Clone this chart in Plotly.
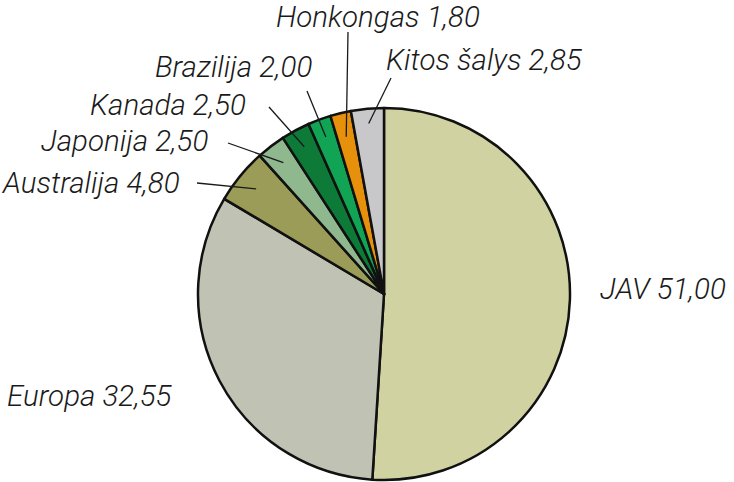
import math
import plotly.graph_objects as go

# ---- data ----
countries = ["JAV", "Europa", "Australija", "Japonija", "Kanada", "Brazilija", "Honkongas", "Kitos šalys"]
values = [51.00, 32.55, 4.80, 2.50, 2.50, 2.00, 1.80, 2.85]
value_labels = ["51,00", "32,55", "4,80", "2,50", "2,50", "2,00", "1,80", "2,85"]

# ---- styles / layout ----
W, H = 734, 482
colors = ["#d0d3a1", "#c0c2b4", "#9b9c58", "#8fb88f", "#0e7a37", "#10a454", "#e6900c", "#c8c8ca"]
CX, CY, R = 384, 294, 186

# label text left x, cap-centre y (px), leader outer end (px) or None
label_pos = {
    "JAV": (601, 287, None),
    "Europa": (8, 394, None),
    "Australija": (2, 181, (197, 183)),
    "Japonija": (42, 139, (228, 143)),
    "Kanada": (91, 103, (269, 107)),
    "Brazilija": (156, 65, (307, 91)),
    "Honkongas": (277, 15, (348, 32)),
    "Kitos šalys": (387, 58, (391, 78)),
}
leader_r = {"Australija": 0.89, "Japonija": 0.89, "Kanada": 0.9, "Brazilija": 0.9,
            "Honkongas": 0.87, "Kitos šalys": 0.92}

fig = go.Figure(go.Pie(
    labels=countries, values=values, sort=False, direction="clockwise", rotation=0,
    marker=dict(colors=colors, line=dict(color="#111111", width=2.5)),
    textinfo="none", hoverinfo="label+value", showlegend=False,
    domain=dict(x=[(CX - R) / W, (CX + R) / W], y=[(H - CY - R) / H, (H - CY + R) / H]),
))

def px(x, y):
    return x / W, 1 - y / H

total = sum(values)
cum = 0.0
annotations, shapes = [], []
for name, v, vl in zip(countries, values, value_labels):
    mid = (cum + v / 2) / total * 2 * math.pi
    cum += v
    tx, ty, outer = label_pos[name]
    ax, ay = px(tx, ty + 2)
    annotations.append(dict(
        x=ax, y=ay, xref="paper", yref="paper", xanchor="left", yanchor="middle",
        text=f"{name} {vl}", showarrow=False, xshift=-3,
        font=dict(family="Roboto, Liberation Sans, Arial, sans-serif", size=29.5, color="#1a1a1a",
                  style="italic", weight=300),
    ))
    if outer is not None:
        rr = R * leader_r[name]
        ix = CX + rr * math.sin(mid)
        iy = CY - rr * math.cos(mid)
        x0, y0 = px(*outer)
        x1, y1 = px(ix, iy)
        shapes.append(dict(type="line", xref="paper", yref="paper", x0=x0, y0=y0, x1=x1, y1=y1,
                           line=dict(color="#1a1a1a", width=1.3)))

fig.update_layout(
    width=W, height=H, margin=dict(l=0, r=0, t=0, b=0),
    paper_bgcolor="white", plot_bgcolor="white",
    annotations=annotations, shapes=shapes,
)
fig.write_html("out.html", config={"displayModeBar": False},
               post_script="document.body.style.margin='0';document.body.style.overflow='hidden';")
